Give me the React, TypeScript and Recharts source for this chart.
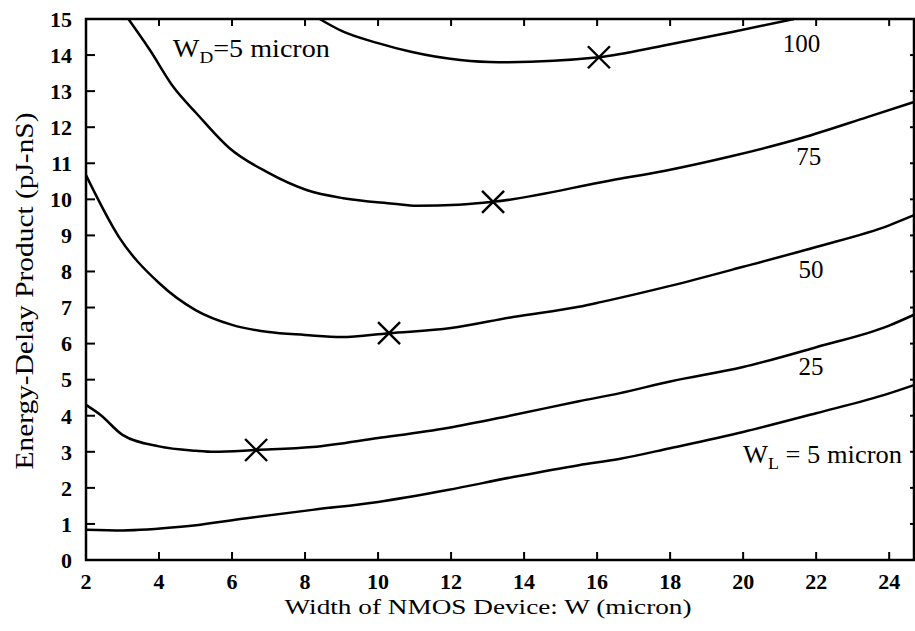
import { ComposedChart, Line, Scatter, XAxis, YAxis, ReferenceDot, ReferenceArea } from "recharts";

const FONT = '"Liberation Serif", "DejaVu Serif", serif';
const INK = '#000';

const X_MIN = 2;
const X_MAX = 24.68;
const Y_MIN = 0;
const Y_MAX = 15;
const X_TICKS = [2, 4, 6, 8, 10, 12, 14, 16, 18, 20, 22, 24];
const Y_TICKS = [0, 1, 2, 3, 4, 5, 6, 7, 8, 9, 10, 11, 12, 13, 14, 15];

// W_L = 5 micron
const WL5_X = [2, 3, 4.6, 6.4, 8.2, 10, 11.9, 13.7, 15.5, 16.6, 18, 20, 22, 24, 24.68];
const WL5_Y = [0.84, 0.82, 0.92, 1.16, 1.39, 1.61, 1.94, 2.3, 2.63, 2.8, 3.1, 3.55, 4.07, 4.62, 4.85];

// W_L = 25
const WL25_X = [2, 2.4, 3, 4, 5, 5.5, 6.66, 8.2, 10, 11.9, 13.7, 15.5, 16.6, 18, 20, 22, 24, 24.68];
const WL25_Y = [4.3, 4.02, 3.47, 3.15, 3.03, 3.0, 3.05, 3.13, 3.38, 3.66, 4.02, 4.4, 4.62, 4.95, 5.35, 5.9, 6.5, 6.8];

// W_L = 50
const WL50_X = [2, 2.9, 4, 5, 6, 7, 8, 9, 10.3, 12, 13.7, 15.5, 16.1, 18, 20, 22, 24, 24.68];
const WL50_Y = [10.67, 8.96, 7.68, 6.93, 6.52, 6.32, 6.24, 6.18, 6.29, 6.43, 6.74, 7.02, 7.15, 7.6, 8.13, 8.68, 9.28, 9.56];

// W_L = 75
const WL75_X = [3.16, 3.75, 4.39, 5.03, 5.94, 6.95, 8.04, 9.05, 10.42, 11.06, 12.2, 13.15, 16.4, 17.9, 19.7, 21.6, 23.4, 24.68];
const WL75_Y = [15, 14.14, 13.12, 12.38, 11.41, 10.76, 10.26, 10.03, 9.88, 9.82, 9.85, 9.93, 10.53, 10.8, 11.2, 11.7, 12.28, 12.7];

// W_L = 100
const WL100_X = [8.4, 9, 10, 10.9, 12.25, 13.3, 16.05, 17.9, 19.7, 21.4];
const WL100_Y = [15, 14.67, 14.33, 14.09, 13.86, 13.8, 13.94, 14.28, 14.64, 15];

// optimum points (X marks)
const MIN_X = [6.66, 10.3, 13.15, 16.05];
const MIN_Y = [3.05, 6.29, 9.93, 13.94];

const CURVE_LABELS = ["100", "75", "50", "25"];
const CURVE_LABEL_X = [21.6, 21.8, 21.86, 21.86];
const CURVE_LABEL_Y = [14.08, 10.95, 7.82, 5.13];

const zip = (xs: number[], ys: number[]) => xs.map((x, i) => ({ x, y: ys[i] }));

const SERIES = [
    zip(WL5_X, WL5_Y),
    zip(WL25_X, WL25_Y),
    zip(WL50_X, WL50_Y),
    zip(WL75_X, WL75_Y),
    zip(WL100_X, WL100_Y),
];

const XMark = (props: any) => {
    const { cx, cy } = props;
    const s = 11;
    return (
        <g stroke={INK} strokeWidth={2.4}>
            <line x1={cx - s} y1={cy - s} x2={cx + s} y2={cy + s} />
            <line x1={cx - s} y1={cy + s} x2={cx + s} y2={cy - s} />
        </g>
    );
};

// inward tick mark, drawn from the scaled point
const tickMark = (dx: number, dy: number, off = 0) => (props: any) => {
    const { cx, cy } = props;
    return <path d={`M${cx + off},${cy}l${dx},${dy}`} stroke={INK} strokeWidth={2} fill="none" />;
};

const tickStyle = { fill: INK, fontFamily: FONT, fontWeight: 700, fontSize: 22 };

export default function App() {
    return (
        <div style={{ position: 'absolute', left: 0, top: 0, background: '#fff' }}>
            <ComposedChart
                width={915}
                height={631}
                margin={{ top: 19, right: 1, bottom: 41, left: 26 }}
                style={{ fontFamily: FONT }}
            >
                <XAxis
                    dataKey="x"
                    type="number"
                    domain={[X_MIN, X_MAX]}
                    ticks={X_TICKS}
                    height={30}
                    tickSize={0}
                    tickMargin={13}
                    axisLine={false}
                    tickLine={false}
                    tick={tickStyle}
                    label={{
                        content: () => (
                            <text
                                x={488}
                                y={614}
                                textAnchor="middle"
                                fontFamily={FONT}
                                fontSize={22}
                                fill={INK}
                                textLength={407}
                                lengthAdjust="spacingAndGlyphs"
                            >
                                Width  of NMOS Device: W (micron)
                            </text>
                        ),
                    }}
                />
                <YAxis
                    type="number"
                    domain={[Y_MIN, Y_MAX]}
                    ticks={Y_TICKS}
                    width={60}
                    tickSize={0}
                    tickMargin={14}
                    axisLine={false}
                    tickLine={false}
                    tick={tickStyle}
                    label={{
                        content: () => (
                            <text
                                x={24}
                                y={291}
                                transform="rotate(-90 24 291)"
                                textAnchor="middle"
                                dominantBaseline="central"
                                fontFamily={FONT}
                                fontSize={26}
                                fill={INK}
                                textLength={357}
                                lengthAdjust="spacingAndGlyphs"
                            >
                                Energy-Delay Product (pJ-nS)
                            </text>
                        ),
                    }}
                />

                {/* plot frame */}
                <ReferenceArea
                    x1={X_MIN}
                    x2={X_MAX}
                    y1={Y_MIN}
                    y2={Y_MAX}
                    fill="none"
                    fillOpacity={0}
                    stroke={INK}
                    strokeWidth={2.5}
                    strokeOpacity={1}
                />

                {/* inward ticks on all four sides */}
                <Scatter data={X_TICKS.map((t) => ({ x: t, y: Y_MIN }))} dataKey="y" shape={tickMark(0, -8)} isAnimationActive={false} />
                <Scatter data={X_TICKS.map((t) => ({ x: t, y: Y_MAX }))} dataKey="y" shape={tickMark(0, 7)} isAnimationActive={false} />
                <Scatter data={Y_TICKS.map((t) => ({ x: X_MIN, y: t }))} dataKey="y" shape={tickMark(9, 0)} isAnimationActive={false} />
                <Scatter data={Y_TICKS.map((t) => ({ x: X_MAX, y: t }))} dataKey="y" shape={tickMark(-3, 0, -1)} isAnimationActive={false} />

                {SERIES.map((data, i) => (
                    <Line
                        key={i}
                        data={data}
                        dataKey="y"
                        type="monotone"
                        stroke={INK}
                        strokeWidth={2.5}
                        dot={false}
                        activeDot={false}
                        isAnimationActive={false}
                    />
                ))}

                <Scatter
                    data={zip(MIN_X, MIN_Y)}
                    dataKey="y"
                    shape={<XMark />}
                    isAnimationActive={false}
                />

                {CURVE_LABELS.map((t, i) => (
                    <ReferenceDot
                        key={t}
                        x={CURVE_LABEL_X[i]}
                        y={CURVE_LABEL_Y[i]}
                        r={0}
                        shape={(p: any) => (
                            <text x={p.cx} y={p.cy} textAnchor="middle" fontFamily={FONT} fontSize={25} fill={INK}>
                                {t}
                            </text>
                        )}
                    />
                ))}

                <ReferenceDot
                    x={4.38}
                    y={13.95}
                    r={0}
                    shape={(p: any) => (
                        <text x={p.cx} y={p.cy} fontFamily={FONT} fontSize={25} fill={INK} textLength={157} lengthAdjust="spacingAndGlyphs">
                            W<tspan fontSize={17} dy={6}>D</tspan><tspan dy={-6}>=5 micron</tspan>
                        </text>
                    )}
                />
                <ReferenceDot
                    x={24.35}
                    y={2.69}
                    r={0}
                    shape={(p: any) => (
                        <text x={p.cx} y={p.cy} textAnchor="end" fontFamily={FONT} fontSize={25} fill={INK} textLength={159} lengthAdjust="spacingAndGlyphs">
                            W<tspan fontSize={17} dy={6}>L</tspan><tspan dy={-6}> = 5 micron</tspan>
                        </text>
                    )}
                />
            </ComposedChart>
        </div>
    );
}
